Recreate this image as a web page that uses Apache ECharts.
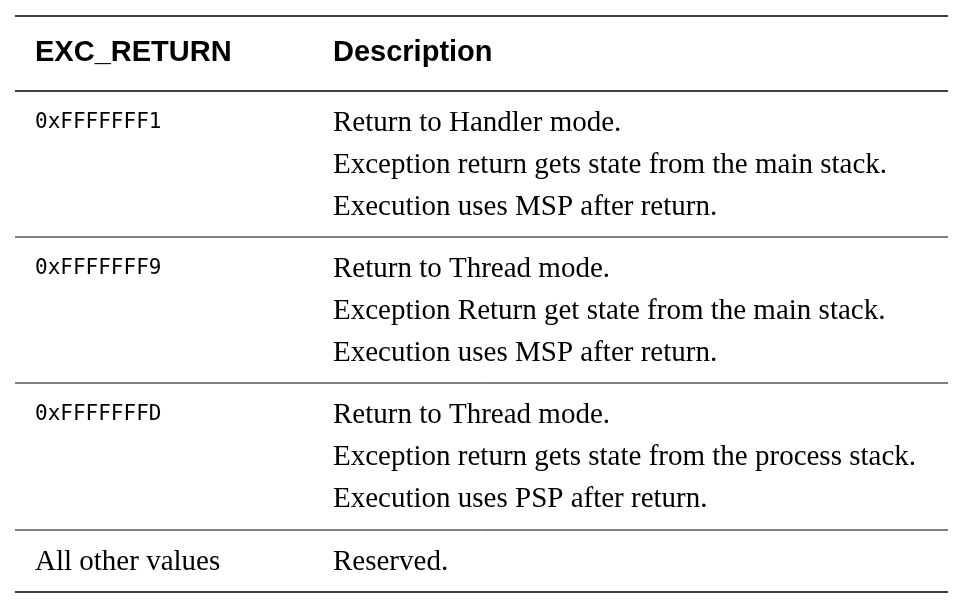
<!DOCTYPE html>
<html><head><meta charset="utf-8">
<script src="https://cdn.jsdelivr.net/npm/echarts@6/dist/echarts.min.js"></script>
<style>html,body{margin:0;padding:0;background:#fff}#c{width:963px;height:615px}</style>
</head><body><div id="c"></div>
<script>
const headers = ["EXC_RETURN", "Description"];
const codes = ["0xFFFFFFF1", "0xFFFFFFF9", "0xFFFFFFFD", "All other values"];
const descriptions = [
  ["Return to Handler mode.", "Exception return gets state from the main stack.", "Execution uses MSP after return."],
  ["Return to Thread mode.", "Exception Return get state from the main stack.", "Execution uses MSP after return."],
  ["Return to Thread mode.", "Exception return gets state from the process stack.", "Execution uses PSP after return."],
  ["Reserved."]
];
const chart = echarts.init(document.getElementById('c'));
const L = 15, R = 948, X1 = 35, X2 = 333;
const rowTops = [91, 237, 383, 530], lineGap = 42;
const g = [];
function hline(y, w) { g.push({type:'line', shape:{x1:L,y1:y,x2:R,y2:y}, style:{stroke:'#000', lineWidth:w}}); }
hline(16, 1.5); hline(91, 1.5); hline(237, 1); hline(383, 1); hline(530, 1); hline(592, 1.5);
g.push({type:'text', x:X1, y:53, style:{text:headers[0], font:'bold 29px "Liberation Sans", Arial', fill:'#000', verticalAlign:'middle'}});
g.push({type:'text', x:X2, y:53, style:{text:headers[1], font:'bold 29px "Liberation Sans", Arial', fill:'#000', verticalAlign:'middle'}});
codes.forEach((c, i) => {
  const y0 = rowTops[i] + 32;
  const mono = c.startsWith('0x');
  g.push({type:'text', x:X1, y:y0, style:{text:c, font: mono ? '21px "DejaVu Sans Mono", monospace' : '29px "Liberation Serif", serif', fill:'#000', verticalAlign:'middle'}});
  descriptions[i].forEach((d, j) => {
    g.push({type:'text', x:X2, y:y0 + j*lineGap, style:{text:d, font:'29px "Liberation Serif", serif', fill:'#000', verticalAlign:'middle'}});
  });
});
chart.setOption({backgroundColor:'#fff', graphic:{elements:g}});
</script></body></html>
